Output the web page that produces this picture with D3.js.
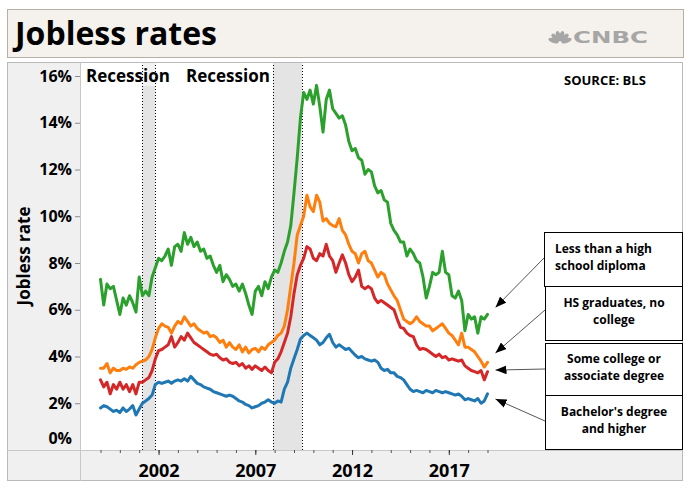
<!DOCTYPE html>
<html><head><meta charset="utf-8">
<script src="https://cdn.jsdelivr.net/npm/d3@7"></script>
<style>
body{margin:0;background:#fff}
svg{display:block}
text{font-family:"Open Sans",sans-serif;font-weight:700;fill:#000}
</style>
</head><body>
<svg id="c" width="694" height="496"></svg>
<script>
// ---------------- data ----------------
const startYear = 1999;          // first observation (Jan 1999)
const stepsPerYear = 6;          // one reading every two months

const lessThanHS = [
 7.3,6.2,7.1,6.9,7.0,6.4,
 5.8,6.5,6.2,6.6,6.3,5.9,
 7.4,6.6,6.8,6.6,7.4,7.8,
 8.2,8.1,8.3,8.6,7.9,8.7,
 8.8,8.5,9.3,8.8,9.1,8.7,
 8.9,8.5,8.6,8.2,8.3,7.9,
 7.6,7.9,7.2,7.5,7.3,7.0,
 7.1,6.8,7.1,6.7,6.2,5.8,
 6.8,7.0,6.6,7.2,6.9,7.4,
 7.7,7.6,8.0,8.5,8.9,9.6,
 11.0,12.5,14.2,15.3,15.0,15.4,
 14.8,15.6,14.7,13.6,15.0,15.4,
 14.6,14.4,14.2,14.3,13.9,13.2,
 12.8,12.9,12.5,12.4,11.8,12.0,
 11.9,11.3,11.0,11.1,10.7,10.6,
 9.7,9.4,9.2,8.9,8.9,8.3,
 8.6,8.4,8.1,8.0,7.4,6.5,
 7.0,7.6,7.5,7.6,8.5,7.6,
 7.5,6.6,6.5,6.8,6.4,5.1,
 5.8,5.6,5.7,5.0,5.7,5.6,
 5.8];

const hsGraduates = [
 3.5,3.5,3.7,3.3,3.5,3.4,
 3.4,3.5,3.45,3.55,3.5,3.65,
 3.75,3.8,3.85,4.0,4.3,4.8,
 5.2,5.4,5.3,5.25,5.0,5.3,
 5.5,5.4,5.7,5.5,5.3,5.4,
 5.2,5.1,5.0,5.05,4.85,4.9,
 4.8,4.6,4.7,4.4,4.6,4.4,
 4.3,4.5,4.2,4.4,4.15,4.3,
 4.35,4.2,4.4,4.3,4.5,4.6,
 4.7,4.9,5.0,5.3,6.0,7.0,
 8.0,9.2,9.6,10.0,10.9,10.4,
 10.2,10.9,10.6,9.8,9.9,9.7,
 9.6,9.55,9.9,9.4,9.2,8.8,
 8.5,8.4,8.0,8.4,8.5,8.1,
 8.0,7.7,7.4,7.6,7.5,7.1,
 6.85,6.6,6.4,6.0,5.6,5.5,
 5.4,5.5,5.7,5.5,5.4,5.3,
 5.3,5.1,5.2,5.3,5.4,5.2,
 5.0,4.9,4.7,4.5,5.0,4.4,
 4.4,4.3,4.2,4.0,3.8,3.55,
 3.75];

const someCollege = [
 3.0,2.7,2.9,2.4,2.8,2.6,
 2.9,2.6,2.8,2.5,2.8,2.4,
 2.9,2.9,3.0,3.1,3.4,3.9,
 4.25,4.3,4.4,4.5,4.85,4.4,
 4.6,4.85,4.7,5.0,4.8,4.6,
 4.5,4.4,4.3,4.2,4.1,4.05,
 4.1,3.95,3.85,3.9,3.75,3.7,
 3.75,3.6,3.7,3.5,3.6,3.45,
 3.6,3.5,3.4,3.55,3.4,3.3,
 3.75,3.9,4.2,4.6,5.0,5.7,
 6.7,7.5,7.9,8.2,8.7,8.6,
 8.2,8.1,8.4,8.3,8.8,8.3,
 8.1,7.6,8.0,8.35,8.0,7.5,
 7.2,7.4,7.7,7.0,6.9,7.0,
 6.9,6.5,6.3,6.4,6.3,6.2,
 6.1,6.0,5.6,5.25,5.2,5.0,
 4.9,4.85,4.5,4.3,4.35,4.3,
 4.2,4.1,4.0,4.1,3.95,4.0,
 3.85,3.9,3.85,3.8,3.85,3.6,
 3.5,3.4,3.35,3.3,3.4,3.0,
 3.35];

const bachelors = [
 1.8,1.9,1.85,1.75,1.65,1.7,
 1.6,1.8,1.65,1.75,1.9,1.5,
 1.75,2.0,2.1,2.2,2.35,2.8,
 2.9,2.85,2.9,2.95,2.85,2.95,
 3.0,2.95,3.05,2.95,3.15,3.0,
 2.85,2.8,2.7,2.65,2.6,2.5,
 2.45,2.4,2.35,2.3,2.35,2.3,
 2.2,2.1,2.05,1.95,1.9,1.8,
 1.85,1.9,2.0,2.05,2.15,2.05,
 2.0,2.1,2.05,2.6,2.9,3.5,
 3.9,4.3,4.75,4.9,5.0,4.9,
 4.8,4.7,4.5,4.6,4.8,4.95,
 4.6,4.4,4.5,4.4,4.3,4.35,
 4.2,4.05,3.95,4.0,3.9,3.85,
 3.8,3.85,3.75,3.5,3.4,3.45,
 3.3,3.3,3.15,3.1,3.0,2.8,
 2.6,2.5,2.55,2.5,2.45,2.55,
 2.5,2.45,2.55,2.5,2.45,2.5,
 2.45,2.4,2.35,2.4,2.3,2.15,
 2.2,2.15,2.1,2.2,2.0,2.1,
 2.4];

const seriesColors = ["#1f77b4","#d62728","#ff7f0e","#2ca02c"];
const seriesData = [bachelors, someCollege, hsGraduates, lessThanHS];

const yTicks = [0,2,4,6,8,10,12,14,16];
const xMinorTicks = d3.range(1999, 2020);
const xMajorTicks = [2002, 2007, 2012, 2017];
const recessions = [[2001 + 2/12, 2001 + 10/12], [2007 + 11/12, 2009 + 5/12]];

const legendLines = [
  ["Less than a high", "school diploma"],
  ["HS graduates, no", "college"],
  ["Some college or", "associate degree"],
  ["Bachelor's degree", "and higher"]
];
// value on each line the arrow points to (end of 2018 / early 2019)
const arrowTargets = [6.1, 4.15, 3.42, 2.18];

// ---------------- layout ----------------
const svg = d3.select("#c");
const F = {x0: 7, x1: 683, y0: 62, y1: 481, px: 80, py: 450};

const x = d3.scaleLinear().domain([1999, 2019]).range([100.5, 487.5]);
const y = d3.scaleLinear().domain([0, 16.6]).range([450, 62]);

// title box
svg.append("rect").attr("x", 7.5).attr("y", 9.5).attr("width", 676).attr("height", 48)
  .attr("fill", "#f5f1ec").attr("stroke", "#b5afa6");
svg.append("text").attr("x", 15).attr("y", 45).attr("font-size", 32).text("Jobless rates");

// CNBC logo
const logo = svg.append("g").attr("transform", "translate(560,43)").attr("fill", "#a6a6a6");
[-70, -42, -14, 14, 42, 70].forEach(a => {
  logo.append("ellipse").attr("cx", 0).attr("cy", -7).attr("rx", 2.3).attr("ry", 5.2)
    .attr("transform", `rotate(${a})`);
});
svg.append("text").attr("x", 573).attr("y", 43).attr("font-size", 16)
  .attr("textLength", 75).attr("lengthAdjust", "spacingAndGlyphs")
  .style("fill", "#a6a6a6").style("font-family", "DejaVu Sans").style("font-weight", 700).text("CNBC");

// chart frame panels
svg.append("rect").attr("x", F.x0).attr("y", F.y0).attr("width", F.x1 - F.x0).attr("height", F.y1 - F.y0).attr("fill", "#f0f0f0");
svg.append("rect").attr("x", F.px).attr("y", F.y0).attr("width", F.x1 - F.px).attr("height", F.py - F.y0).attr("fill", "#fff");

// recessions
const rec = svg.append("g");
recessions.forEach(r => {
  rec.append("rect").attr("x", x(r[0])).attr("y", F.y0).attr("width", x(r[1]) - x(r[0])).attr("height", F.py - F.y0).attr("fill", "#e4e4e4");
});
// soft background behind first label
svg.append("rect").attr("x", 85).attr("y", 63).attr("width", 84).attr("height", 23).attr("fill", "#fff").attr("opacity", 0.5);
recessions.forEach(r => {
  r.forEach(t => {
    svg.append("line").attr("x1", Math.round(x(t)) + 0.5).attr("x2", Math.round(x(t)) + 0.5).attr("y1", F.y0).attr("y2", F.py)
      .attr("stroke", "#000").attr("stroke-dasharray", "1,2");
  });
});
svg.append("text").attr("x", 86).attr("y", 81.5).attr("font-size", 17).text("Recession");
svg.append("text").attr("x", 186).attr("y", 81.5).attr("font-size", 17).text("Recession");

// lines
const line = d3.line().x((d, i) => x(startYear + i / stepsPerYear)).y(d => y(d));
seriesData.forEach((s, k) => {
  svg.append("path").datum(s).attr("d", line).attr("fill", "none")
    .attr("stroke", seriesColors[k]).attr("stroke-width", 3).attr("stroke-linejoin", "round").attr("stroke-linecap", "round");
});

// source
svg.append("text").attr("x", 564).attr("y", 85).attr("font-size", 13).text("SOURCE: BLS");

// frame lines
svg.append("rect").attr("x", F.x0 + 0.5).attr("y", F.y0 + 0.5).attr("width", F.x1 - F.x0 - 1).attr("height", F.y1 - F.y0 - 1)
  .attr("fill", "none").attr("stroke", "#b9b9b9");
svg.append("line").attr("x1", F.px + 0.5).attr("x2", F.px + 0.5).attr("y1", F.y0).attr("y2", F.y1).attr("stroke", "#c8c8c8");
svg.append("line").attr("x1", F.x0).attr("x2", F.x1).attr("y1", F.py + 0.5).attr("y2", F.py + 0.5).attr("stroke", "#c8c8c8");

// y axis
const yAx = svg.append("g").attr("transform", `translate(${F.px},0)`)
  .call(d3.axisLeft(y).tickValues(yTicks).tickSize(5).tickPadding(3).tickFormat(d => d + "%"));
yAx.select(".domain").remove();
yAx.selectAll(".tick line").attr("stroke", "#8a8a8a");
yAx.selectAll(".tick text").attr("font-size", 16).style("font-family", "Open Sans").style("font-weight", 700);
yAx.selectAll(".tick").filter(d => d === 0).select("line").remove();
yAx.selectAll(".tick").filter(d => d === 0).select("text").attr("y", -12);

svg.append("text").attr("transform", "translate(30,256) rotate(-90)").attr("text-anchor", "middle")
  .attr("font-size", 17).text("Jobless rate");

// x axis
const xMin = svg.append("g").attr("transform", `translate(0,${F.py})`)
  .call(d3.axisBottom(x).tickValues(xMinorTicks).tickSize(3).tickFormat(""));
xMin.select(".domain").remove();
xMin.selectAll(".tick line").attr("stroke", "#555");
const xMaj = svg.append("g").attr("transform", `translate(0,${F.py})`)
  .call(d3.axisBottom(x).tickValues(xMajorTicks).tickSize(5).tickPadding(9).tickFormat(d3.format("d")));
xMaj.select(".domain").remove();
xMaj.selectAll(".tick line").attr("stroke", "#333");
xMaj.selectAll(".tick text").attr("font-size", 18).style("font-family", "Open Sans").style("font-weight", 700);

// annotations
const defs = svg.append("defs");
defs.append("marker").attr("id", "ah").attr("viewBox", "0 0 10 8").attr("refX", 10).attr("refY", 4)
  .attr("markerWidth", 11).attr("markerHeight", 9).attr("markerUnits", "userSpaceOnUse").attr("orient", "auto")
  .append("path").attr("d", "M0,0L10,4L0,8Z").attr("fill", "#000");

const boxes = [
  {x0: 544, y0: 232, y1: 286, ay: 258, align: "start"},
  {x0: 545, y0: 286, y1: 340, ay: 310, align: "middle"},
  {x0: 545, y0: 343, y1: 395, ay: 369, align: "middle"},
  {x0: 545, y0: 395, y1: 449, ay: 421, align: "middle"}
];
const boxRight = 682;
boxes.forEach((b, i) => {
  svg.append("line").attr("x1", b.x0).attr("y1", b.ay).attr("x2", x(2019) + 8).attr("y2", y(arrowTargets[i]))
    .attr("stroke", "#555").attr("stroke-width", 1).attr("marker-end", "url(#ah)");
  svg.append("rect").attr("x", b.x0 + 0.5).attr("y", b.y0 + 0.5).attr("width", boxRight - b.x0).attr("height", b.y1 - b.y0)
    .attr("fill", "#fff").attr("stroke", "#000");
  const cy = (b.y0 + b.y1) / 2;
  const tx = b.align === "start" ? b.x0 + 11 : (b.x0 + boxRight) / 2 + 0.5;
  legendLines[i].forEach((ln, j) => {
    svg.append("text").attr("x", tx).attr("y", cy - 6 + j * 16.5).attr("text-anchor", b.align)
      .attr("font-size", 12).text(ln);
  });
});
</script>
</body></html>
